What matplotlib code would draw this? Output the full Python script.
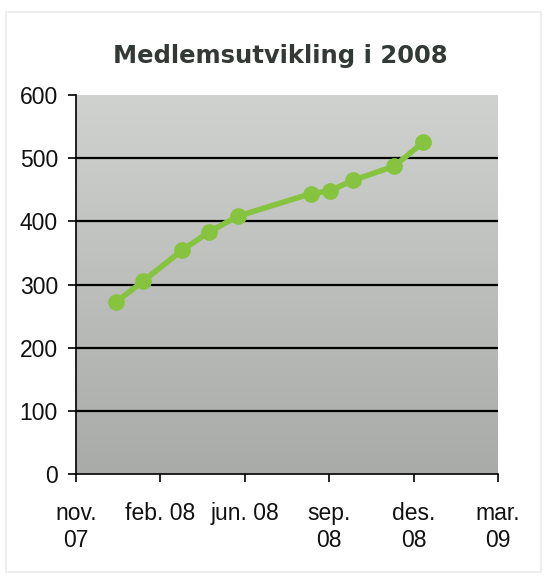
import matplotlib
matplotlib.use("Agg")
import matplotlib.pyplot as plt
import matplotlib.dates as mdates
import numpy as np
from datetime import datetime

# members over time
dates = ["2007-12-17", "2008-01-17", "2008-03-02", "2008-04-02", "2008-05-05",
         "2008-07-29", "2008-08-19", "2008-09-15", "2008-11-01", "2008-12-05"]
members = [272, 305, 354, 383, 408, 444, 448, 465, 487, 525]

tick_labels = ["nov.\n07", "feb. 08", "jun. 08", "sep.\n08", "des.\n08", "mar.\n09"]
y_ticks = [0, 100, 200, 300, 400, 500, 600]

x = mdates.date2num([datetime.strptime(d, "%Y-%m-%d") for d in dates])
xmin = mdates.date2num(datetime(2007, 11, 1))
xmax = mdates.date2num(datetime(2009, 3, 1))

fig = plt.figure(figsize=(5.45, 5.76), dpi=100)
fig.patch.set_facecolor("white")
ax = fig.add_axes([76/545, 1 - 474/576, 422/545, 379/576])

# gray gradient: darker at the bottom, lighter at the top
grad = np.linspace(0, 1, 256).reshape(-1, 1)
cmap = matplotlib.colors.LinearSegmentedColormap.from_list("g", ["#a8aba8", "#cfd2cf"])
ax.imshow(grad, cmap=cmap, aspect="auto", extent=[xmin, xmax, 0, 600],
          origin="lower", zorder=0)

ax.set_xlim(xmin, xmax)
ax.set_ylim(0, 600)

for v in y_ticks[1:-1]:
    ax.axhline(v, color="black", lw=1.6, zorder=1)

ax.plot(x, members, color="#86c440", lw=4, marker="o", ms=11,
        markerfacecolor="#86c440", markeredgecolor="#86c440", zorder=3)

ax.set_yticks(y_ticks)
ax.set_xticks(np.linspace(xmin, xmax, 6))
ax.set_xticklabels(tick_labels, va="top")
for lab in ax.get_xticklabels() + ax.get_yticklabels():
    lab.set_fontfamily("Liberation Sans")
    lab.set_fontsize(16.5)
    lab.set_color("#111111")
for lab in ax.get_xticklabels():
    lab.set_linespacing(1.25)

ax.tick_params(axis="both", length=6, width=1.2, color="black", direction="out")
ax.tick_params(axis="x", pad=14)
ax.tick_params(axis="y", pad=7)
for s in ["top", "right"]:
    ax.spines[s].set_visible(False)
ax.spines["left"].set_linewidth(1.2)
ax.spines["bottom"].set_linewidth(1.2)

fig.text(0.515, 0.902, "Medlemsutvikling i 2008", ha="center", va="center",
         fontsize=17.5, fontweight="bold", family="DejaVu Sans", color="#333a36")

# faint outer frame
fig.add_artist(plt.Rectangle((6/545, 4/576), 1 - 10/545, 1 - 16/576, transform=fig.transFigure,
                             fill=False, edgecolor="#eeeeee", lw=1.5))

fig.savefig("out.png", dpi=100)
